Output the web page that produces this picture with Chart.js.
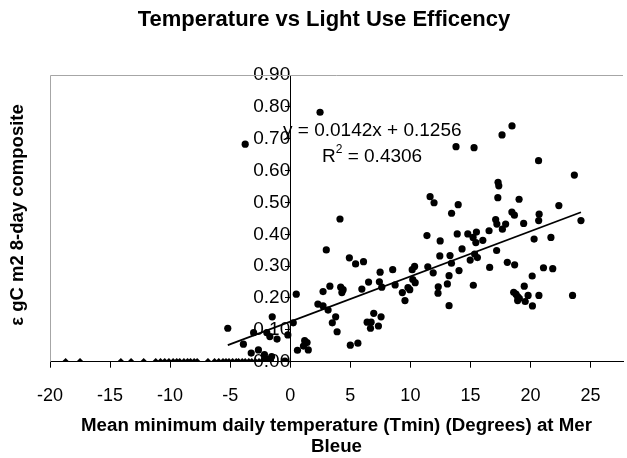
<!DOCTYPE html>
<html>
<head>
<meta charset="utf-8">
<script src="https://cdn.jsdelivr.net/npm/chart.js@4/dist/chart.umd.min.js"></script>
<style>
  html, body { margin: 0; padding: 0; background: #ffffff; }
  #wrap { width: 627px; height: 458px; position: relative; }
</style>
</head>
<body>
<div id="wrap"><canvas id="c"></canvas></div>
<script>
// ---- Data ----
const chartTitle = 'Temperature vs Light Use Efficency';
const xAxisTitle = ['Mean minimum daily temperature (Tmin) (Degrees) at Mer', 'Bleue'];
const yAxisTitle = 'ε gC m2 8-day composite';

const xTickValues = [-20, -15, -10, -5, 0, 5, 10, 15, 20, 25];
const yTickValues = [0, 0.1, 0.2, 0.3, 0.4, 0.5, 0.6, 0.7, 0.8, 0.9];

// growing-season composites (large dots)
const tminObs = [
  -5.2, -3.75, -3.9, -3.25, -3.05, -2.65, -2.15, -2.2, -1.9, -1.65, -1.55, -1.95, -1.7, -1.5, -1.1, -0.45, -0.2,
  0.25, 0.5, 0.6, 1.1, 1.2, 1.4, 1.5, 2.3, 2.48, 2.73, 2.73, 3.0, 3.15, 3.3, 3.5, 3.78, 3.9,
  4.14, 4.2, 4.4, 4.3, 4.92, 5.0, 5.44, 5.63, 5.96, 6.1, 6.4, 6.52, 6.68, 6.73, 6.95, 7.34,
  7.42, 7.48, 7.62, 7.56, 8.53, 8.73, 9.33, 9.55, 9.8, 9.95, 10.15, 10.35, 10.2, 10.4,
  11.38, 11.45, 11.64, 11.97, 11.9, 12.3, 12.32, 12.45, 12.48, 13.08, 13.22, 13.22, 13.3, 13.42,
  13.43, 13.8, 13.9, 13.98, 14.05, 14.3, 14.78, 14.98, 15.22, 15.24, 15.3, 15.45, 15.5, 15.35,
  15.58, 16.03, 16.55, 16.6, 17.1, 17.2, 17.18, 17.28, 17.3, 17.36, 17.63, 17.66, 17.93, 18.07,
  18.45, 18.46, 18.66, 18.68, 18.6, 18.79, 18.93, 19.07, 18.93, 19.05, 19.43, 19.48, 19.56, 19.8,
  20.14, 20.16, 20.3, 20.67, 20.72, 20.68, 20.7, 21.08, 21.7, 21.85, 22.36, 23.5, 23.65, 24.2
];
const lueObs = [
  0.105, 0.683, 0.055, 0.027, 0.091, 0.037, 0.022, 0.003, 0.007, 0.005, 0.016, 0.091, 0.079, 0.141, 0.071, 0.002, 0.084,
  0.122, 0.212, 0.036, 0.049, 0.066, 0.060, 0.037, 0.181, 0.783, 0.175, 0.220, 0.351, 0.162, 0.237, 0.122, 0.141, 0.094,
  0.448, 0.234, 0.226, 0.217, 0.326, 0.052, 0.307, 0.058, 0.228, 0.314, 0.124, 0.250, 0.105, 0.124, 0.152, 0.112,
  0.251, 0.281, 0.234, 0.141, 0.289, 0.241, 0.217, 0.192, 0.233, 0.226, 0.289, 0.299, 0.258, 0.248,
  0.396, 0.298, 0.518, 0.499, 0.279, 0.215, 0.235, 0.332, 0.379, 0.244, 0.270, 0.176, 0.333, 0.309,
  0.466, 0.675, 0.401, 0.493, 0.286, 0.354, 0.401, 0.319, 0.390, 0.240, 0.672, 0.374, 0.407, 0.338,
  0.327, 0.381, 0.411, 0.296, 0.446, 0.432, 0.349, 0.515, 0.563, 0.552, 0.712, 0.416, 0.432, 0.312,
  0.470, 0.740, 0.460, 0.304, 0.218, 0.212, 0.204, 0.199, 0.192, 0.510, 0.434, 0.237, 0.189, 0.208,
  0.269, 0.175, 0.385, 0.631, 0.463, 0.443, 0.208, 0.295, 0.390, 0.292, 0.490, 0.208, 0.586, 0.443
];

// winter composites lying on the zero line (small diamonds)
const winterTmin = [
  -18.7, -17.5, -14.1, -13.25, -12.2, -11.2, -10.8, -10.45, -10.1, -9.75, -9.45, -9.2, -8.85, -8.55, -8.3, -8.0,
  -7.75, -6.85, -6.3, -5.95, -5.6, -5.35, -5.1, -4.8, -4.5, -4.3, -4.0, -3.75, -3.45, -3.2, -2.9, -2.6
];
const winterLue = [
  0, 0, 0, 0, 0, 0, 0, 0, 0, 0, 0, 0, 0, 0, 0, 0,
  0, 0, 0, 0, 0, 0, 0, 0, 0, 0, 0, 0, 0, 0, 0, 0
];

// linear trendline reported on the chart
const trendSlope = 0.0142;
const trendIntercept = 0.1256;
const trendR2 = 0.4306;

// ---- Build datasets ----
const obsPoints = tminObs.map((x, i) => ({ x: x, y: lueObs[i] }));
const winterPoints = winterTmin.map((x, i) => ({ x: x, y: winterLue[i] }));
const xMinObs = Math.min.apply(null, tminObs);
const xMaxObs = Math.max.apply(null, tminObs);
const trendPoints = [xMinObs, xMaxObs].map(x => ({ x: x, y: trendSlope * x + trendIntercept }));

const FONT = '"Liberation Sans", Arial, Helvetica, sans-serif';

const decorPlugin = {
  id: 'decor',
  beforeDatasetsDraw(chart) {
    const ctx = chart.ctx;
    const a = chart.chartArea;
    ctx.save();
    ctx.strokeStyle = '#a6a6a6';
    ctx.lineWidth = 1;
    ctx.beginPath();
    ctx.moveTo(a.left + 0.5, a.bottom);
    ctx.lineTo(a.left + 0.5, a.top + 0.5);
    ctx.lineTo(a.right, a.top + 0.5);
    ctx.stroke();
    ctx.restore();
  },
  afterDraw(chart) {
    const ctx = chart.ctx;
    // chart title
    ctx.save();
    ctx.fillStyle = '#000';
    ctx.font = 'bold 22px ' + FONT;
    ctx.textAlign = 'center';
    ctx.textBaseline = 'middle';
    ctx.fillText(chartTitle, 324, 20);
    ctx.restore();

    // y-axis title (rotated)
    ctx.save();
    ctx.fillStyle = '#000';
    ctx.font = 'bold 18.5px ' + FONT;
    ctx.textAlign = 'center';
    ctx.textBaseline = 'middle';
    ctx.translate(18, 215);
    ctx.rotate(-Math.PI / 2);
    ctx.fillText(yAxisTitle, 0, 0);
    ctx.restore();

    // trendline equation and R squared
    ctx.save();
    ctx.fillStyle = '#000';
    ctx.textBaseline = 'middle';
    ctx.textAlign = 'left';
    ctx.font = '19px ' + FONT;
    const eq = 'y = ' + trendSlope.toFixed(4) + 'x + ' + trendIntercept.toFixed(4);
    ctx.fillText(eq, 283, 131);
    const rx = 322, ry = 157;
    ctx.fillText('R', rx, ry);
    const rw = ctx.measureText('R').width;
    ctx.font = '12px ' + FONT;
    ctx.fillText('2', rx + rw, ry - 7);
    const sw = ctx.measureText('2').width;
    ctx.font = '19px ' + FONT;
    ctx.fillText(' = ' + trendR2.toFixed(4), rx + rw + sw, ry);
    ctx.restore();
  }
};

new Chart(document.getElementById('c'), {
  type: 'scatter',
  data: {
    datasets: [
      {
        label: 'Trend',
        type: 'line',
        data: trendPoints,
        borderColor: '#000',
        borderWidth: 1.8,
        pointRadius: 0,
        fill: false,
        order: 0
      },
      {
        label: 'Growing season',
        data: obsPoints,
        backgroundColor: '#000',
        borderColor: '#000',
        borderWidth: 0,
        pointRadius: 3.6,
        pointStyle: 'circle',
        order: 1
      },
      {
        label: 'Winter',
        data: winterPoints,
        backgroundColor: '#000',
        borderColor: '#000',
        borderWidth: 0,
        pointRadius: 3.8,
        pointStyle: 'rectRot',
        order: 2
      }
    ]
  },
  options: {
    responsive: true,
    maintainAspectRatio: false,
    animation: false,
    events: [],
    layout: { padding: { top: 75, left: 50, right: 0, bottom: 0 } },
    plugins: {
      legend: { display: false },
      tooltip: { enabled: false },
      title: { display: false }
    },
    scales: {
      x: {
        type: 'linear',
        position: 'bottom',
        min: -20,
        max: 27.7,
        afterBuildTicks: (s) => { s.ticks = xTickValues.map(v => ({ value: v })); },
        afterFit: (s) => { s.height = 96.3; },
        grid: { display: true, drawOnChartArea: false, drawTicks: true, tickLength: 6, color: '#000' },
        border: { display: true, color: '#000', width: 1 },
        ticks: {
          color: '#000',
          padding: 18,
          maxRotation: 0,
          font: { family: FONT, size: 18 },
          callback: (v) => String(v)
        },
        title: {
          display: true,
          text: xAxisTitle,
          color: '#000',
          font: { family: FONT, size: 18.7, weight: 'bold', lineHeight: 1.15 },
          padding: { top: 0, bottom: 0 }
        }
      },
      y: {
        type: 'linear',
        position: { x: 0 },
        min: 0,
        max: 0.9,
        afterBuildTicks: (s) => { s.ticks = yTickValues.map(v => ({ value: v })); },
        grid: { display: true, drawOnChartArea: false, drawTicks: true, tickLength: 5, color: '#000' },
        border: { display: true, color: '#000', width: 1 },
        ticks: {
          color: '#000',
          padding: 9,
          font: { family: FONT, size: 19 },
          callback: (v) => Number(v).toFixed(2)
        }
      }
    }
  },
  plugins: [decorPlugin]
});
</script>
</body>
</html>
